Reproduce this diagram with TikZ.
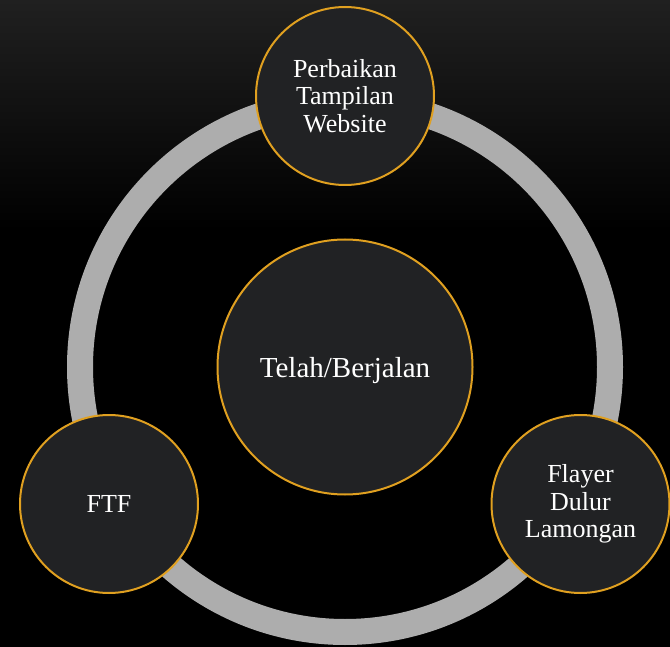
\documentclass[tikz,border=0pt]{standalone}
\usepackage{fontspec}
\setmainfont{Liberation Serif}
\definecolor{ringgray}{RGB}{173,173,173}
\definecolor{nodefill}{RGB}{33,34,36}
\definecolor{goldline}{RGB}{224,160,32}
\definecolor{bgtop}{RGB}{32,32,32}
\tikzset{
  bubble/.style={circle, draw=goldline, line width=2pt, fill=nodefill,
    text=white, inner sep=0pt, align=center, minimum size=178pt,
    font=\fontsize{26}{27.5}\selectfont},
  hub/.style={bubble, minimum size=255pt, text depth=0pt,
    font=\fontsize{29}{33}\selectfont}
}
\begin{document}
\begin{tikzpicture}[x=1pt,y=-1pt]
\useasboundingbox (0,0) rectangle (670,647);
\fill[black] (0,0) rectangle (670,647);
\shade[top color=bgtop, bottom color=black] (0,0) rectangle (670,230);
\draw[ringgray, line width=26pt] (345,367) circle[radius=265pt];
\node[hub] (center) at (345,367) {Telah/Berjalan};
\node[bubble] (top) at (345,96) {Perbaikan\\Tampilan\\Website};
\node[bubble] (left) at (109,504) {FTF};
\node[bubble] (right) at (580.5,504) {Flayer\\Dulur\\Lamongan};
\end{tikzpicture}
\end{document}
